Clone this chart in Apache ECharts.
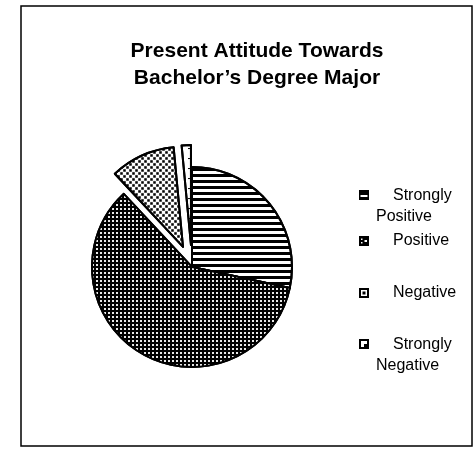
<!DOCTYPE html>
<html>
<head>
<meta charset="utf-8">
<script src="https://cdn.jsdelivr.net/npm/echarts@6/dist/echarts.min.js"></script>
<style>html,body{margin:0;padding:0;background:#fff}#c{width:474px;height:449px}</style>
</head>
<body>
<div id="c"></div>
<script>
// Data
const titleLines = ['Present Attitude Towards', 'Bachelor\u2019s Degree Major'];
const categories = ['Strongly Positive', 'Positive', 'Negative', 'Strongly Negative'];
const values = [19, 40, 7, 1];
const exploded = [false, false, true, true];
const legendLines = [['Strongly', 'Positive'], ['Positive'], ['Negative'], ['Strongly', 'Negative']];

const FONT = "'Liberation Sans', Arial, sans-serif";

const decals = [
  {symbol: 'rect', symbolSize: 1, color: '#000', dashArrayX: [1, 0], dashArrayY: [3, 3]},
  {symbol: 'rect', symbolSize: 1, color: '#e8e8e8', dashArrayX: [2, 2], dashArrayY: [2, 2]},
  {symbol: 'rect', symbolSize: 0.85, color: '#000', dashArrayX: [[3, 3], [0, 3, 3, 0]], dashArrayY: [3, 0]},
  {symbol: 'rect', symbolSize: 1, color: '#000', dashArrayX: [3, 6], dashArrayY: [1, 9]}
];
const fills = ['#fff', '#000', '#fff', '#fff'];

const ext = ' M0,33 H0.01 V33.01 H0 Z';
const icons = [
  'path://M0,0 H10 V10 H0 Z M1.5,5 V7 H8.5 V5 Z' + ext,
  'path://M0,0 H10 V10 H0 Z M2,2.5 V4 H3.5 V2.5 Z M2,6 V7.5 H3.5 V6 Z M5.5,4 V6 H8 V4 Z',
  'path://M0,0 H10 V10 H0 Z M2,2 V8 H8 V2 Z M3.5,3.5 H6.5 V6.5 H3.5 Z',
  'path://M0,0 H10 V10 H0 Z M2,2 V8 H8 V2 Z M5,5 H8 V8 H5 Z' + ext
];
const legendTops = [185.5, 230.5, 282.5, 334.5];
const iconHeights = [33, 10, 10, 33];

const chart = echarts.init(document.getElementById('c'), null, {renderer: 'canvas'});

const legends = categories.map((name, i) => ({
  data: [{name: name, icon: icons[i]}],
  left: 359,
  top: legendTops[i],
  padding: 0,
  orient: 'vertical',
  selectedMode: false,
  itemWidth: 10,
  itemHeight: iconHeights[i],
  itemStyle: {color: '#000', borderWidth: 0, decal: {symbol: 'rect', color: 'rgba(0,0,0,0)'}},
  formatter: () => legendLines[i].length === 2
    ? '{a|' + legendLines[i][0] + '}\n{b|' + legendLines[i][1] + '}'
    : '{a|' + legendLines[i][0] + '}',
  textStyle: {
    fontFamily: FONT, fontSize: 16, color: '#000', lineHeight: 21,
    rich: {
      a: {fontFamily: FONT, fontSize: 16, color: '#000', lineHeight: 21, padding: [0, 0, 0, 19]},
      b: {fontFamily: FONT, fontSize: 16, color: '#000', lineHeight: 21, padding: [0, 0, 0, 2]}
    }
  }
}));

chart.setOption({
  animation: false,
  backgroundColor: '#fff',
  title: {
    text: titleLines.join('\n'),
    left: 252,
    top: 33,
    textAlign: 'center',
    textStyle: {fontFamily: FONT, fontWeight: 'bold', fontSize: 21, lineHeight: 27, color: '#000'}
  },
  legend: legends,
  graphic: [{
    type: 'rect',
    shape: {x: 21, y: 6, width: 451, height: 440},
    style: {fill: 'none', stroke: '#000', lineWidth: 1.5},
    silent: true
  }],
  series: [{
    type: 'pie',
    center: [192, 267],
    radius: 100,
    startAngle: 90,
    clockwise: true,
    selectedMode: 'multiple',
    selectedOffset: 22,
    label: {show: false},
    labelLine: {show: false},
    emphasis: {disabled: true},
    itemStyle: {borderColor: '#000', borderWidth: 2},
    data: categories.map((name, i) => ({
      name: name,
      value: values[i],
      selected: exploded[i],
      itemStyle: {color: fills[i], decal: decals[i]}
    }))
  }]
});
</script>
</body>
</html>
